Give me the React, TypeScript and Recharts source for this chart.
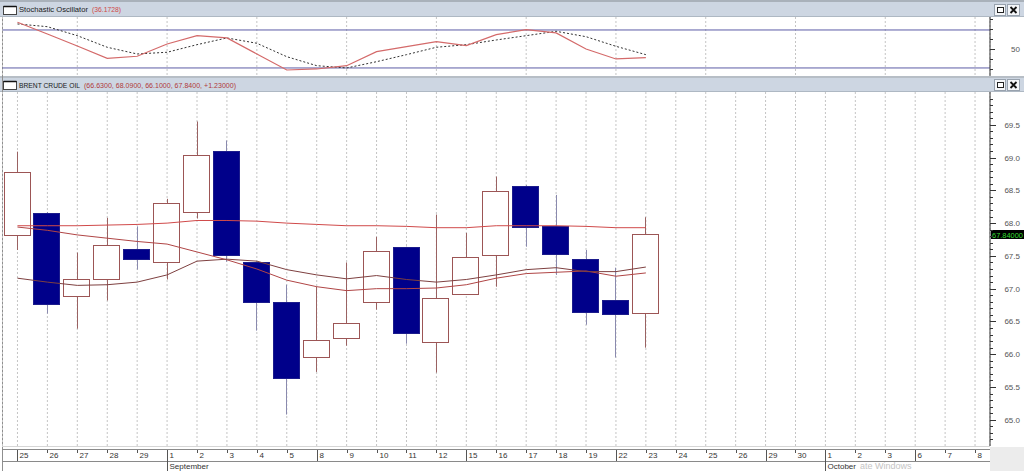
import React from 'react';
import { ComposedChart, Bar, Line, XAxis, YAxis, ReferenceLine, CartesianGrid } from 'recharts';

// ---------- data ----------
const dates = [
  '2025-08-25', '2025-08-26', '2025-08-27', '2025-08-28', '2025-08-29',
  '2025-09-01', '2025-09-02', '2025-09-03', '2025-09-04', '2025-09-05',
  '2025-09-08', '2025-09-09', '2025-09-10', '2025-09-11', '2025-09-12',
  '2025-09-15', '2025-09-16', '2025-09-17', '2025-09-18', '2025-09-19',
  '2025-09-22', '2025-09-23', '2025-09-24', '2025-09-25', '2025-09-26',
  '2025-09-29', '2025-09-30', '2025-10-01', '2025-10-02', '2025-10-03',
  '2025-10-06', '2025-10-07', '2025-10-08',
];
const monthNames = ['January', 'February', 'March', 'April', 'May', 'June', 'July', 'August', 'September', 'October', 'November', 'December'];

const opens = [67.82, 68.16, 66.89, 67.15, 67.61, 67.41, 68.17, 69.10, 67.41, 66.79, 65.95, 66.25, 66.79, 67.63, 66.18, 66.92, 67.52, 68.57, 67.96, 67.46, 66.82, 66.63];
const highs = [69.09, 68.17, 67.55, 68.08, 67.95, 68.37, 69.55, 69.26, 67.42, 67.06, 67.03, 67.40, 67.79, 67.64, 68.13, 67.85, 68.71, 68.58, 68.43, 67.59, 67.32, 68.09];
const lows = [67.59, 66.62, 66.39, 66.82, 67.29, 67.14, 68.07, 67.41, 66.36, 65.08, 65.73, 66.13, 66.68, 66.16, 65.72, 66.91, 67.03, 67.64, 67.21, 66.45, 65.95, 66.10];
const closes = [68.78, 66.77, 67.14, 67.67, 67.46, 68.30, 69.04, 67.52, 66.80, 65.63, 66.22, 66.47, 67.58, 66.33, 66.86, 67.49, 68.49, 67.94, 67.53, 66.65, 66.61, 67.84];

const maSlow = [67.96, 67.96, 67.96, 67.97, 67.98, 68.00, 68.04, 68.04, 68.03, 68.00, 67.98, 67.96, 67.96, 67.95, 67.93, 67.93, 67.96, 67.96, 67.96, 67.95, 67.93, 67.93];
const maMid = [67.94, 67.89, 67.82, 67.77, 67.72, 67.68, 67.56, 67.44, 67.30, 67.13, 67.03, 66.97, 67.00, 67.00, 67.01, 67.06, 67.16, 67.23, 67.25, 67.27, 67.19, 67.24];
const maFast = [67.16, 67.10, 67.05, 67.06, 67.10, 67.21, 67.42, 67.45, 67.42, 67.29, 67.21, 67.15, 67.20, 67.14, 67.10, 67.14, 67.21, 67.29, 67.32, 67.26, 67.26, 67.33];

const stochK = [92.2, 73.7, 54.7, 35.3, 38.5, 57.9, 71.0, 67.4, 42.1, 16.8, 18.4, 23.6, 45.7, 53.6, 61.5, 55.2, 72.6, 80.5, 75.3, 50.0, 34.2, 36.1728];
const stochD = [89.5, 85.2, 71.0, 52.7, 42.1, 44.8, 56.8, 67.4, 59.0, 37.8, 23.6, 20.0, 29.9, 41.0, 52.7, 56.8, 64.2, 71.0, 77.9, 69.4, 54.2, 41.0];

const priceMajorTicks = [65.0, 65.5, 66.0, 66.5, 67.0, 67.5, 68.0, 68.5, 69.0, 69.5];
const priceDomain: [number, number] = [64.6, 70.0];
const stochTicks = [18, 34, 50, 66, 82, 98];
const stochLevels = [80, 20];
const stochDomain: [number, number] = [7.3, 100.5];

// ---------- derived ----------
const priceTicks: number[] = [];
for (let t = Math.round(priceDomain[0] * 10) + 1; t < Math.round(priceDomain[1] * 10); t++) priceTicks.push(t / 10);

const rows = dates.map((d, i) => ({
  key: d,
  open: opens[i] ?? null,
  high: highs[i] ?? null,
  low: lows[i] ?? null,
  close: closes[i] ?? null,
  range: i < opens.length ? [lows[i], highs[i]] : null,
  maSlow: maSlow[i] ?? null,
  maMid: maMid[i] ?? null,
  maFast: maFast[i] ?? null,
  k: stochK[i] ?? null,
  d: stochD[i] ?? null,
}));

const last = opens.length - 1;
const change = closes[last] - closes[last - 1];

// ---------- styles ----------
const FONT = '"Liberation Sans", Arial, sans-serif';
const headerBg = '#cdd6e2';
const gridColor = '#c4c4c4';

const Candle = (props: any) => {
  const { x, y, width, height, payload } = props;
  if (!payload || payload.open == null || height == null || !isFinite(height)) return null;
  const { open, close, high, low } = payload;
  const k = height / (high - low);
  const py = (p: number) => y + (high - p) * k;
  const up = close >= open;
  const cx = Math.round(x + width / 2) + 0.5;
  const bt = Math.round(py(Math.max(open, close))) + 0.5;
  const bb = Math.round(py(Math.min(open, close))) + 0.5;
  const left = Math.round(x) + 0.5;
  const right = Math.round(x + width) - 0.5;
  return (
    <g>
      <line x1={cx} x2={cx} y1={py(high)} y2={py(low)} stroke={up ? '#9a6262' : '#8a8aae'} strokeWidth={1} />
      <rect
        x={left}
        y={bt}
        width={right - left}
        height={Math.max(bb - bt, 1)}
        fill={up ? '#ffffff' : '#00008a'}
        stroke={up ? '#9c5555' : '#1c1c8c'}
        strokeWidth={1}
      />
    </g>
  );
};

const DateTick = (props: any) => {
  const { x, y, payload } = props;
  const i = dates.indexOf(payload.value);
  if (i < 0) return null;
  const [yy, mm, dd] = dates[i].split('-').map(Number);
  const dow = new Date(Date.UTC(yy, mm - 1, dd)).getUTCDay();
  const monthStart = i > 0 && Number(dates[i - 1].split('-')[1]) !== mm;
  const monday = dow === 1;
  const tx = Math.round(x) + 0.5;
  const top = y;
  const y2 = monthStart ? top + 26 : monday ? top + 15 : top + 7;
  return (
    <g>
      <line x1={tx} x2={tx} y1={top + 4} y2={y2} stroke="#555" strokeWidth={1} />
      <text x={tx + 2} y={top + 12} fontSize={8} fontFamily={FONT} fill="#333">{String(dd)}</text>
      {monthStart && (
        <text x={tx + 2} y={top + 23} fontSize={8} fontFamily={FONT} fill="#333">{monthNames[mm - 1]}</text>
      )}
    </g>
  );
};

const PriceTick = (props: any) => {
  const { x, y, payload } = props;
  const v = payload.value;
  const major = priceMajorTicks.some((m) => Math.abs(m - v) < 1e-6);
  const ty = Math.round(y) + 0.5;
  return (
    <g>
      <line x1={x} x2={x + (major ? 6 : 3)} y1={ty} y2={ty} stroke="#333" strokeWidth={1} />
      {major && (
        <text x={x + 30} y={y + 3} textAnchor="end" fontSize={8} fontFamily={FONT} fill="#555">{v.toFixed(1)}</text>
      )}
    </g>
  );
};

const StochTick = (props: any) => {
  const { x, y, payload } = props;
  const v = payload.value;
  const major = v === 50;
  const ty = Math.round(y) + 0.5;
  return (
    <g>
      <line x1={x} x2={x + (major ? 5 : 3)} y1={ty} y2={ty} stroke="#333" strokeWidth={1} />
      {major && (
        <text x={x + 30} y={y + 3} textAnchor="end" fontSize={8} fontFamily={FONT} fill="#555">{String(v)}</text>
      )}
    </g>
  );
};

const PriceMarker = (props: any) => {
  const vb = props.viewBox || {};
  const x0 = (vb.x ?? 0) + (vb.width ?? 0);
  const yc = vb.y ?? 0;
  return (
    <g>
      <rect x={x0 + 1} y={Math.round(yc) - 4} width={33} height={9} fill="#000" />
      <text x={x0 + 2} y={Math.round(yc) + 3.5} fontSize={7.5} fontFamily={FONT} fill="#33dd33" textLength={31} lengthAdjust="spacingAndGlyphs">
        {closes[last].toFixed(5)}
      </text>
    </g>
  );
};

const HeaderButtons = ({ y }: { y: number }) => (
  <g>
    <rect x={994.5} y={y + 0.5} width={11} height={11} fill="#f4f6f9" stroke="#98a2ae" />
    <rect x={997.5} y={y + 3.5} width={6} height={5} fill="#fff" stroke="#222" />
    <rect x={1007.5} y={y + 0.5} width={12} height={11} fill="#f4f6f9" stroke="#98a2ae" />
    <path d={`M${1010.5} ${y + 3} L${1016.5} ${y + 9} M${1016.5} ${y + 3} L${1010.5} ${y + 9}`} stroke="#111" strokeWidth={1.8} />
  </g>
);

const HeaderIcon = ({ y }: { y: number }) => (
  <g>
    <rect x={3.5} y={y + 0.5} width={13} height={8} fill="#fff" stroke="#444" />
    <line x1={3.5} x2={16.5} y1={y + 0.5} y2={y + 0.5} stroke="#111" strokeWidth={1.5} />
  </g>
);

export default function App() {
  const title2 = `(${opens[last].toFixed(4)}, ${highs[last].toFixed(4)}, ${lows[last].toFixed(4)}, ${closes[last].toFixed(4)}, ${change >= 0 ? '+' : ''}${change.toFixed(5)})`;
  return (
    <div style={{ position: 'absolute', left: 0, top: 0, width: 1024, height: 471, background: '#fff', overflow: 'hidden', fontFamily: FONT }}>
      <svg width={1024} height={471} style={{ position: 'absolute', left: 0, top: 0 }}>
        <rect x={0} y={0} width={1024} height={2} fill="#a9b1ba" />
        <rect x={0} y={2} width={1024} height={15} fill={headerBg} />
        <line x1={0} x2={1024} y1={16.5} y2={16.5} stroke="#aeb8c3" />
        <rect x={0} y={76} width={1024} height={2} fill="#b7bec6" />
        <rect x={0} y={78} width={1024} height={14} fill={headerBg} />
        <line x1={0} x2={1024} y1={91.5} y2={91.5} stroke="#aeb8c3" />
        <HeaderIcon y={6} />
        <HeaderIcon y={81} />
        <text x={19} y={12} fontSize={7.8} fontFamily={FONT} fill="#1a1a1a" textLength={69} lengthAdjust="spacingAndGlyphs">Stochastic Oscillator</text>
        <text x={92} y={12} fontSize={7.8} fontFamily={FONT} fill="#d04848" textLength={29} lengthAdjust="spacingAndGlyphs">{`(${stochK[last].toFixed(4)})`}</text>
        <text x={19} y={88} fontSize={7} fontFamily={FONT} fill="#1a1a1a" textLength={61} lengthAdjust="spacingAndGlyphs">BRENT CRUDE OIL</text>
        <text x={84} y={88} fontSize={7} fontFamily={FONT} fill="#b03a3a" textLength={152} lengthAdjust="spacingAndGlyphs">{title2}</text>
        <HeaderButtons y={4} />
        <HeaderButtons y={79} />
        <line x1={2.5} x2={2.5} y1={17} y2={471} stroke="#8f8f8f" />
        <line x1={2} x2={990} y1={446.5} y2={446.5} stroke="#d6d6d6" />
        <line x1={2} x2={990} y1={449.5} y2={449.5} stroke="#8a8a8a" />
        <line x1={2} x2={990} y1={461.5} y2={461.5} stroke="#8a8a8a" />
        <rect x={990} y={447} width={34} height={24} fill="#ececec" />
      </svg>

      <div style={{ position: 'absolute', left: 0, top: 17 }}>
        <ComposedChart width={1024} height={59} data={rows} margin={{ top: 0, right: 0, bottom: 0, left: 2.5 }}>
          <XAxis dataKey="key" scale="band" hide />
          <YAxis
            orientation="right"
            width={34}
            type="number"
            domain={stochDomain}
            allowDataOverflow
            ticks={stochTicks}
            interval={0}
            tickSize={0}
            tickMargin={0}
            tickLine={false}
            axisLine={{ stroke: '#333' }}
            tick={<StochTick />}
          />
          <CartesianGrid horizontal={false} vertical stroke={gridColor} strokeDasharray="2 2" />
          {stochLevels.map((v) => (
            <ReferenceLine key={'lv' + v} y={v} stroke="#5c5ca6" strokeWidth={1} />
          ))}
          <Line dataKey="d" stroke="#333" strokeWidth={1} strokeDasharray="2 2" dot={false} isAnimationActive={false} />
          <Line dataKey="k" stroke="#d46a6a" strokeWidth={1.2} dot={false} isAnimationActive={false} />
        </ComposedChart>
      </div>

      <div style={{ position: 'absolute', left: 0, top: 92 }}>
        <ComposedChart width={1024} height={379} data={rows} margin={{ top: 0, right: 0, bottom: 0, left: 2.5 }} barSize={27}>
          <XAxis
            dataKey="key"
            scale="band"
            height={25}
            interval={0}
            tickSize={0}
            tickMargin={0}
            tickLine={false}
            axisLine={false}
            tick={<DateTick />}
          />
          <YAxis
            orientation="right"
            width={34}
            type="number"
            domain={priceDomain}
            allowDataOverflow
            ticks={priceTicks}
            interval={0}
            tickSize={0}
            tickMargin={0}
            tickLine={false}
            axisLine={{ stroke: '#333' }}
            tick={<PriceTick />}
          />
          <CartesianGrid horizontal={false} vertical stroke={gridColor} strokeDasharray="2 2" />
          <Bar dataKey="range" shape={<Candle />} isAnimationActive={false} />
          <Line dataKey="maSlow" stroke="#d04a4a" strokeWidth={1} dot={false} isAnimationActive={false} />
          <Line dataKey="maMid" stroke="#b04545" strokeWidth={1} dot={false} isAnimationActive={false} />
          <Line dataKey="maFast" stroke="#7e4040" strokeWidth={1} dot={false} isAnimationActive={false} />
          <ReferenceLine y={closes[last]} stroke="none" label={<PriceMarker />} />
        </ComposedChart>
      </div>

      <svg width={1024} height={471} style={{ position: 'absolute', left: 0, top: 0, pointerEvents: 'none' }}>
        <text x={860} y={469} fontSize={9} fontFamily={FONT} fill="#c4c4c4">ate Windows</text>
      </svg>
    </div>
  );
}
